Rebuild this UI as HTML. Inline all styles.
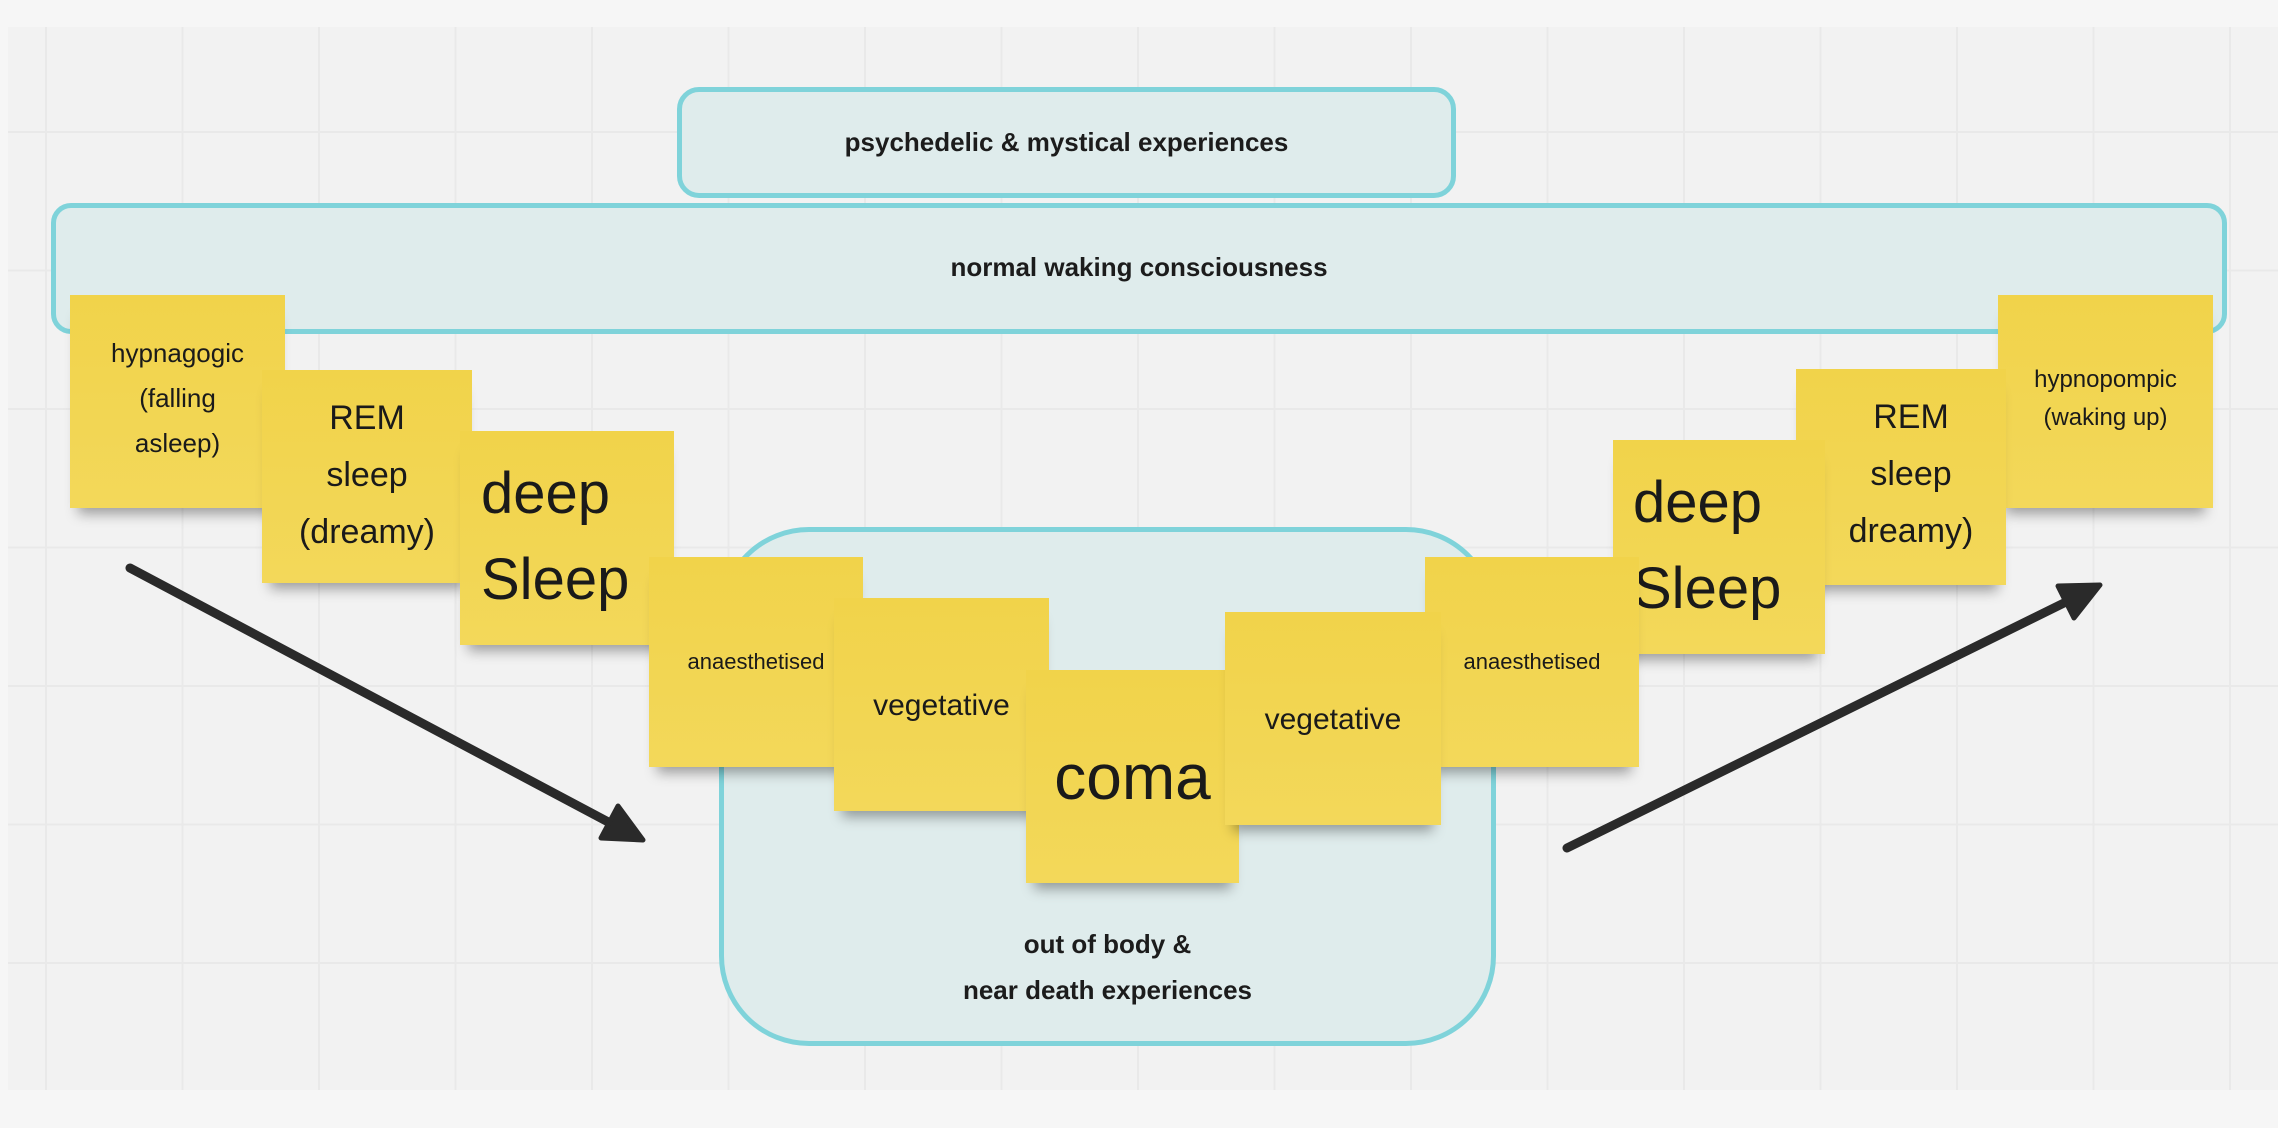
<!DOCTYPE html>
<html><head><meta charset="utf-8"><style>
html,body{margin:0;padding:0}
body{width:2278px;height:1128px;position:relative;overflow:hidden;background:#f6f6f6;font-family:"Liberation Sans",sans-serif;color:#1c1c1c}
.grid{position:absolute;left:8px;top:27px;width:2270px;height:1063px;background-color:#f2f2f2;
background-image:linear-gradient(#e9e9e9 2px,transparent 2px),linear-gradient(90deg,#e9e9e9 2px,transparent 2px);
background-size:136.5px 138.5px;background-position:37px 104px}
.box{position:absolute;background:#dfecec;border:5px solid #7fd3da;box-sizing:border-box;display:flex;align-items:center;justify-content:center;font-weight:bold;font-size:26px;text-align:center}
.st{position:absolute;background:linear-gradient(180deg,#f1d34a,#f3d85a);box-shadow:0 14px 12px -8px rgba(0,0,0,.35);text-align:center;box-sizing:border-box;color:#1a1a1a;overflow:hidden;white-space:nowrap}
</style></head><body>
<div class="grid"></div>
<div class="box" style="left:677px;top:87px;width:779px;height:111px;border-radius:22px">psychedelic &amp; mystical experiences</div>
<div class="box" style="left:51px;top:203px;width:2176px;height:131px;border-radius:20px;padding-bottom:2px">normal waking consciousness</div>
<div class="box" style="left:719px;top:527px;width:777px;height:519px;border-radius:90px;align-items:flex-end;padding-bottom:28px;line-height:46px">out of body &amp;<br>near death experiences</div>

<svg style="position:absolute;left:0;top:0" width="2278" height="1128">
<g stroke="#2a2a2a" stroke-width="9" stroke-linecap="round" fill="#2a2a2a" stroke-linejoin="round">
<line x1="130" y1="568" x2="612" y2="824"/>
<polygon points="643,840 601,838 618,806" stroke-width="5"/>
<line x1="1567" y1="848" x2="2068" y2="601"/>
<polygon points="2100,585 2074,618 2058,586" stroke-width="5"/>
</g></svg>

<div class="st" style="left:70px;top:295px;width:215px;height:213px;z-index:1;font-size:26px;line-height:45px;padding-top:36px">hypnagogic<br>(falling<br>asleep)</div>
<div class="st" style="left:262px;top:370px;width:210px;height:213px;z-index:2;font-size:34px;line-height:57px;padding-top:20px">REM<br>sleep<br>(dreamy)</div>
<div class="st" style="left:460px;top:431px;width:214px;height:214px;z-index:3;font-size:58px;line-height:86px;padding-top:20px;text-align:left;padding-left:21px">deep<br>Sleep</div>
<div class="st" style="left:649px;top:557px;width:214px;height:210px;z-index:4;font-size:22px;line-height:30px;padding-top:90px">anaesthetised</div>
<div class="st" style="left:834px;top:598px;width:215px;height:213px;z-index:5;font-size:30px;line-height:40px;padding-top:88px">vegetative</div>
<div class="st" style="left:1026px;top:670px;width:213px;height:213px;z-index:7;font-size:64px;line-height:90px;padding-top:62px">coma</div>
<div class="st" style="left:1225px;top:612px;width:216px;height:213px;z-index:8;font-size:30px;line-height:40px;padding-top:88px">vegetative</div>
<div class="st" style="left:1425px;top:557px;width:214px;height:210px;z-index:6;font-size:22px;line-height:30px;padding-top:90px">anaesthetised</div>
<div class="st" style="left:1613px;top:440px;width:212px;height:214px;z-index:5;font-size:58px;line-height:86px;padding-top:20px;text-align:left;padding-left:20px">deep<br>Sleep</div>
<div class="st" style="left:1796px;top:369px;width:210px;height:216px;z-index:4;font-size:34px;line-height:57px;padding-top:20px;padding-left:20px">REM<br>sleep<br>dreamy)</div>
<div class="st" style="left:1998px;top:295px;width:215px;height:213px;z-index:3;font-size:24px;line-height:38px;padding-top:66px">hypnopompic<br>(waking up)</div>
</body></html>
